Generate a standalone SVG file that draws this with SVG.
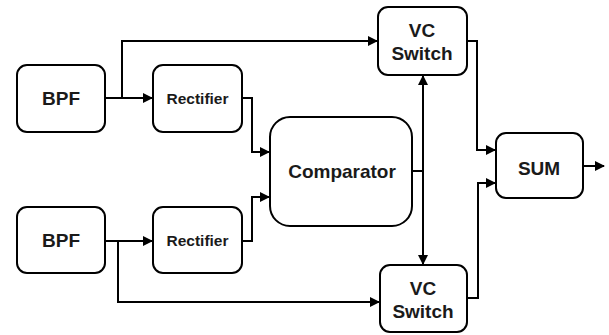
<svg xmlns="http://www.w3.org/2000/svg" width="609" height="335" viewBox="0 0 609 335">
<defs>
<marker id="ah" markerWidth="10" markerHeight="10" refX="9" refY="5" orient="auto" markerUnits="userSpaceOnUse">
<path d="M0,0 L10,5 L0,10 Z" fill="#000"/>
</marker>
<style>
.box{fill:#fff;stroke:#000;stroke-width:2}
.t{font-family:"Liberation Sans",Arial,sans-serif;font-weight:bold;fill:#1a1a1a;text-anchor:middle}
.c{fill:none;stroke:#000;stroke-width:2}
</style>
</defs>
<rect width="609" height="335" fill="#fff"/>
<g id="connectors">
<path class="c" d="M105,98 H152" marker-end="url(#ah)"/>
<path class="c" d="M122,98 V41 H377" marker-end="url(#ah)"/>
<path class="c" d="M105,241 H152" marker-end="url(#ah)"/>
<path class="c" d="M118,241 V302 H379" marker-end="url(#ah)"/>
<path class="c" d="M242,98 H252 V152 H269" marker-end="url(#ah)"/>
<path class="c" d="M242,241 H252 V197 H269" marker-end="url(#ah)"/>
<path class="c" d="M412,171 H423"/>
<path class="c" d="M423,171 V76" marker-end="url(#ah)"/>
<path class="c" d="M423,171 V264" marker-end="url(#ah)"/>
<path class="c" d="M467,41 H477 V150 H495" marker-end="url(#ah)"/>
<path class="c" d="M467,298 H478 V183 H495" marker-end="url(#ah)"/>
<path class="c" d="M583,166 H604" marker-end="url(#ah)"/>
</g>
<g id="bpf1"><rect class="box" x="17" y="65" width="88" height="67" rx="10"/><text class="t" x="61" y="105" font-size="19">BPF</text></g>
<g id="rect1"><rect class="box" x="153" y="65" width="89" height="67" rx="10"/><text class="t" x="197.5" y="104" font-size="15.5">Rectifier</text></g>
<g id="bpf2"><rect class="box" x="17" y="207" width="88" height="66" rx="10"/><text class="t" x="61" y="247" font-size="19">BPF</text></g>
<g id="rect2"><rect class="box" x="153" y="207" width="89" height="66" rx="10"/><text class="t" x="197.5" y="246" font-size="15.5">Rectifier</text></g>
<g id="comparator"><rect class="box" x="270" y="117" width="142" height="109" rx="20"/><text class="t" x="342" y="178" font-size="19">Comparator</text></g>
<g id="vc1"><rect class="box" x="378" y="7" width="89" height="68" rx="10"/><text class="t" x="422" y="37" font-size="19">VC</text><text class="t" x="422" y="60" font-size="19">Switch</text></g>
<g id="vc2"><rect class="box" x="380" y="265" width="87" height="67" rx="10"/><text class="t" x="423" y="295" font-size="19">VC</text><text class="t" x="423" y="318" font-size="19">Switch</text></g>
<g id="sum"><rect class="box" x="496" y="133" width="87" height="65" rx="10"/><text class="t" x="539" y="175" font-size="19">SUM</text></g>
</svg>
